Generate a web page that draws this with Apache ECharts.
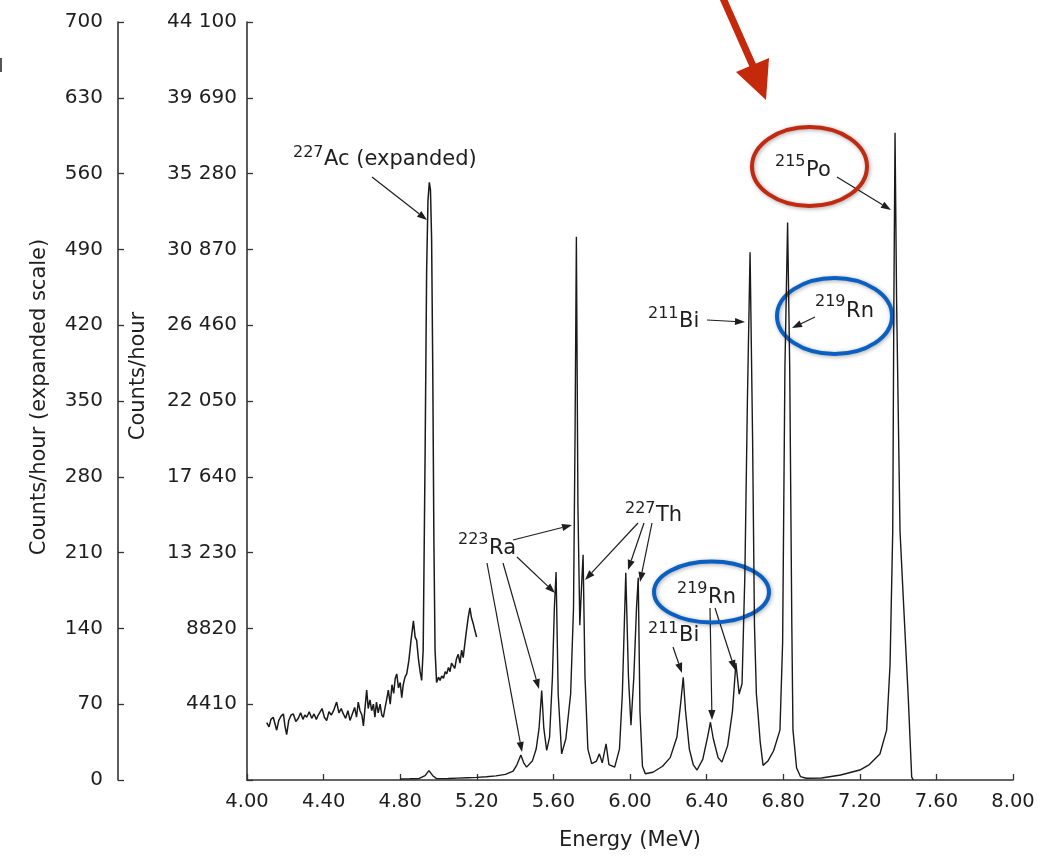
<!DOCTYPE html>
<html>
<head>
<meta charset="utf-8">
<script src="https://cdn.jsdelivr.net/npm/echarts@6/dist/echarts.min.js"></script>
<style>
html,body{margin:0;padding:0;background:#fff;}
#c{width:1058px;height:856px;}
</style>
</head>
<body>
<div id="c"></div>
<script>
// ---- Data ----
const expandedEnergy = [4.103,4.115,4.125,4.137,4.146,4.155,4.166,4.178,4.190,4.198,4.207,4.218,4.230,4.242,4.255,4.268,4.280,4.292,4.302,4.312,4.325,4.338,4.350,4.362,4.372,4.381,4.392,4.404,4.416,4.428,4.440,4.452,4.468,4.480,4.492,4.503,4.515,4.527,4.538,4.550,4.562,4.572,4.581,4.590,4.600,4.608,4.617,4.625,4.633,4.642,4.651,4.660,4.668,4.676,4.685,4.695,4.704,4.712,4.720,4.729,4.738,4.748,4.757,4.766,4.774,4.782,4.791,4.800,4.808,4.816,4.825,4.834,4.845,4.856,4.869,4.878,4.886,4.895,4.904,4.912,4.920,4.930,4.938,4.945,4.952,4.958,4.964,4.970,4.976,4.982,4.990,5.000,5.008,5.017,5.026,5.035,5.043,5.052,5.060,5.068,5.077,5.085,5.094,5.103,5.112,5.121,5.129,5.137,5.146,5.155,5.164,5.172,5.182,5.190,5.199];
const expandedCounts = [53,49,56,58,52,46,55,59,61,50,42,55,60,61,54,57,62,56,60,58,63,57,61,56,60,61,66,58,55,63,60,64,72,62,66,61,57,64,55,61,67,58,72,64,60,50,68,83,66,74,64,70,58,72,62,70,60,58,66,74,83,70,88,80,94,98,85,90,76,88,95,98,110,128,147,132,129,112,100,92,120,300,470,535,552,545,500,380,220,120,90,95,92,96,94,100,98,104,100,108,107,103,112,116,108,120,113,125,138,150,159,150,144,138,132];

const mainEnergy = [4.80,4.85,4.90,4.93,4.95,4.97,4.99,5.05,5.10,5.15,5.20,5.25,5.30,5.35,5.39,5.41,5.43,5.445,5.46,5.49,5.51,5.525,5.539,5.55,5.565,5.58,5.595,5.605,5.614,5.625,5.643,5.665,5.69,5.705,5.713,5.72,5.728,5.738,5.748,5.755,5.765,5.78,5.80,5.825,5.84,5.855,5.875,5.89,5.92,5.945,5.96,5.978,5.992,6.005,6.02,6.034,6.043,6.052,6.065,6.08,6.12,6.17,6.21,6.245,6.265,6.278,6.29,6.31,6.33,6.35,6.38,6.405,6.42,6.435,6.46,6.48,6.51,6.535,6.553,6.57,6.585,6.60,6.613,6.627,6.64,6.65,6.66,6.67,6.68,6.695,6.72,6.75,6.783,6.797,6.809,6.823,6.834,6.845,6.851,6.87,6.89,6.92,7.00,7.10,7.20,7.25,7.305,7.34,7.358,7.372,7.378,7.384,7.392,7.41,7.427,7.453,7.471,7.48];
const mainCounts = [60,70,90,250,550,250,80,90,110,130,150,190,240,330,520,900,1450,1000,750,1100,1800,3000,5200,3000,1720,2500,6000,10000,12100,5000,1520,2400,5000,10000,20000,31600,16000,9000,11500,13100,6000,1800,950,1100,1520,1000,2100,900,750,1800,5000,12050,6000,3190,6000,10000,11760,4000,800,365,450,800,1300,2500,4500,5970,4000,1800,900,580,1200,2500,3360,2400,1300,1040,2000,4000,6800,5000,5600,12000,22000,30700,20000,9000,5000,3650,2200,850,1100,1700,2900,8000,24000,32440,24000,9000,2900,700,200,100,120,290,580,900,1510,2900,6720,14490,28000,37650,28000,14490,10600,4810,170,0];

const energyTickLabels = ['4.00','4.40','4.80','5.20','5.60','6.00','6.40','6.80','7.20','7.60','8.00'];
const mainTickLabels = ['', '4410', '8820', '13 230', '17 640', '22 050', '26 460', '30 870', '35 280', '39 690', '44 100'];
const expandedTickLabels = ['0','70','140','210','280','350','420','490','560','630','700'];

// ---- Chart ----
const FONT = '"DejaVu Sans", "Liberation Sans", Arial, sans-serif';
const INK = '#1e1e1e';
const chart = echarts.init(document.getElementById('c'), null, {renderer: 'canvas'});

const mainData = mainEnergy.map((e, i) => [e, mainCounts[i]]);
const expData = expandedEnergy.map((e, i) => [e, expandedCounts[i]]);

const measureCtx = document.createElement('canvas').getContext('2d');
function textWidth(t, font) { measureCtx.font = font; return measureCtx.measureText(t).width; }

function arrow(x1, y1, x2, y2) {
  const col = INK, w = 1.2, hl = 10, hw = 3.6;
  const dx = x2 - x1, dy = y2 - y1, L = Math.hypot(dx, dy);
  const ux = dx / L, uy = dy / L;
  const bx = x2 - ux * hl, by = y2 - uy * hl;
  return [
    {type: 'line', silent: true, shape: {x1: x1, y1: y1, x2: bx, y2: by}, style: {stroke: col, lineWidth: w}},
    {type: 'polygon', silent: true, shape: {points: [[x2, y2], [bx - uy * hw, by + ux * hw], [bx + uy * hw, by - ux * hw]]}, style: {fill: col}}
  ];
}
function txt(x, y, t, font, extra) {
  return Object.assign({type: 'text', silent: true, x: x, y: y,
    style: {text: t, font: font, fill: INK, align: 'left', verticalAlign: 'middle', textAlign: 'left', textVerticalAlign: 'middle'}}, extra || {});
}
function iso(x, sup, supY, name, nameY) {
  const supFont = '16px ' + FONT, nameFont = '21px ' + FONT;
  const w = textWidth(sup, supFont);
  return [txt(x, supY, sup, supFont), txt(x + w + 0.5, nameY, name, nameFont)];
}

let g = [];
// Axis titles
const rotStyle = t => ({text: t, font: '21px ' + FONT, fill: INK, align: 'center', verticalAlign: 'middle', textAlign: 'center', textVerticalAlign: 'middle'});
g.push({type: 'text', silent: true, x: 139, y: 376, rotation: Math.PI / 2, style: rotStyle('Counts/hour')});
g.push({type: 'text', silent: true, x: 40, y: 397, rotation: Math.PI / 2, style: rotStyle('Counts/hour (expanded scale)')});

// Isotope labels
g = g.concat(iso(293, '227', 153, 'Ac (expanded)', 160));
g = g.concat(iso(775, '215', 162, 'Po', 171));
g = g.concat(iso(815, '219', 302, 'Rn', 312));
g = g.concat(iso(648, '211', 314, 'Bi', 322));
g = g.concat(iso(625, '227', 509, 'Th', 516));
g = g.concat(iso(458, '223', 540, 'Ra', 549));
g = g.concat(iso(648, '211', 629, 'Bi', 636));
g = g.concat(iso(677, '219', 589, 'Rn', 598));

// Pointer arrows
[[372,177,427,220],[837,177,891,210],[815,317,792,328],[707,320,745,322],
 [638,523,585,580],[644,523,628,570],[652,523,640,582],
 [513,540,572,525],[517,557,555,593],[503,563,539,689],[487,563,522,752],
 [673,647,682,673],[710,608,712,720],[715,608,735,670]
].forEach(a => { g = g.concat(arrow(a[0], a[1], a[2], a[3])); });

// Highlight ellipses
const shadow = {shadowBlur: 4, shadowColor: 'rgba(0,0,0,0.35)', shadowOffsetX: 1, shadowOffsetY: 1};
g.push({type: 'ellipse', silent: true, shape: {cx: 809.5, cy: 166.5, rx: 57.5, ry: 39.5},
  style: Object.assign({fill: 'none', stroke: '#c12a10', lineWidth: 4}, shadow)});
g.push({type: 'ellipse', silent: true, shape: {cx: 834.5, cy: 316, rx: 57.5, ry: 38},
  style: Object.assign({fill: 'none', stroke: '#0a60c2', lineWidth: 4}, shadow)});
g.push({type: 'ellipse', silent: true, shape: {cx: 711.5, cy: 592, rx: 57.5, ry: 30.5},
  style: Object.assign({fill: 'none', stroke: '#0a60c2', lineWidth: 4}, shadow)});

// Red pointer arrow at top
g.push({type: 'line', silent: true, shape: {x1: 722, y1: -4, x2: 753, y2: 66}, style: {stroke: '#c4290c', lineWidth: 7}});
g.push({type: 'polygon', silent: true, shape: {points: [[766, 100], [736, 72], [769, 58]]}, style: {fill: '#c4290c'}});

// small cropped glyph at the left edge
g.push({type: 'rect', silent: true, shape: {x: 0, y: 58, width: 2, height: 14}, style: {fill: '#555'}});

const axisLineStyle = {color: '#333', width: 1.6};
const tickStyle = {show: true, inside: true, length: 6, lineStyle: {color: '#333', width: 1.3}};
chart.setOption({
  animation: false,
  backgroundColor: '#fff',
  grid: {left: 247, right: 45, top: 22, bottom: 73, containLabel: false},
  xAxis: {
    type: 'value', min: 4, max: 8, interval: 0.4,
    axisLine: {show: true, lineStyle: axisLineStyle},
    axisTick: tickStyle,
    axisLabel: {color: INK, fontSize: 19.5, fontFamily: FONT, margin: 12,
      formatter: v => energyTickLabels[Math.round((v - 4) / 0.4)]},
    splitLine: {show: false},
    name: 'Energy (MeV)', nameLocation: 'middle', nameGap: 50,
    nameTextStyle: {color: INK, fontSize: 21, fontFamily: FONT}
  },
  yAxis: [
    {
      type: 'value', position: 'left', min: 0, max: 44100, interval: 4410,
      axisLine: {show: true, lineStyle: axisLineStyle},
      axisTick: tickStyle,
      axisLabel: {color: INK, fontSize: 20, fontFamily: FONT, margin: 10,
        formatter: v => mainTickLabels[Math.round(v / 4410)]},
      splitLine: {show: false}
    },
    {
      type: 'value', position: 'left', offset: 129, min: 0, max: 700, interval: 70,
      axisLine: {show: true, lineStyle: axisLineStyle},
      axisTick: tickStyle,
      axisLabel: {color: INK, fontSize: 20, fontFamily: FONT, margin: 15,
        formatter: v => expandedTickLabels[Math.round(v / 70)]},
      splitLine: {show: false}
    }
  ],
  series: [
    {type: 'line', name: 'Counts/hour', yAxisIndex: 0, data: mainData, showSymbol: false, symbol: 'none',
      lineStyle: {color: '#1a1a1a', width: 1.4}, z: 3},
    {type: 'line', name: 'Counts/hour (expanded)', yAxisIndex: 1, data: expData, showSymbol: false, symbol: 'none',
      lineStyle: {color: '#1a1a1a', width: 1.5}, z: 3}
  ],
  graphic: g
});
</script>
</body>
</html>
